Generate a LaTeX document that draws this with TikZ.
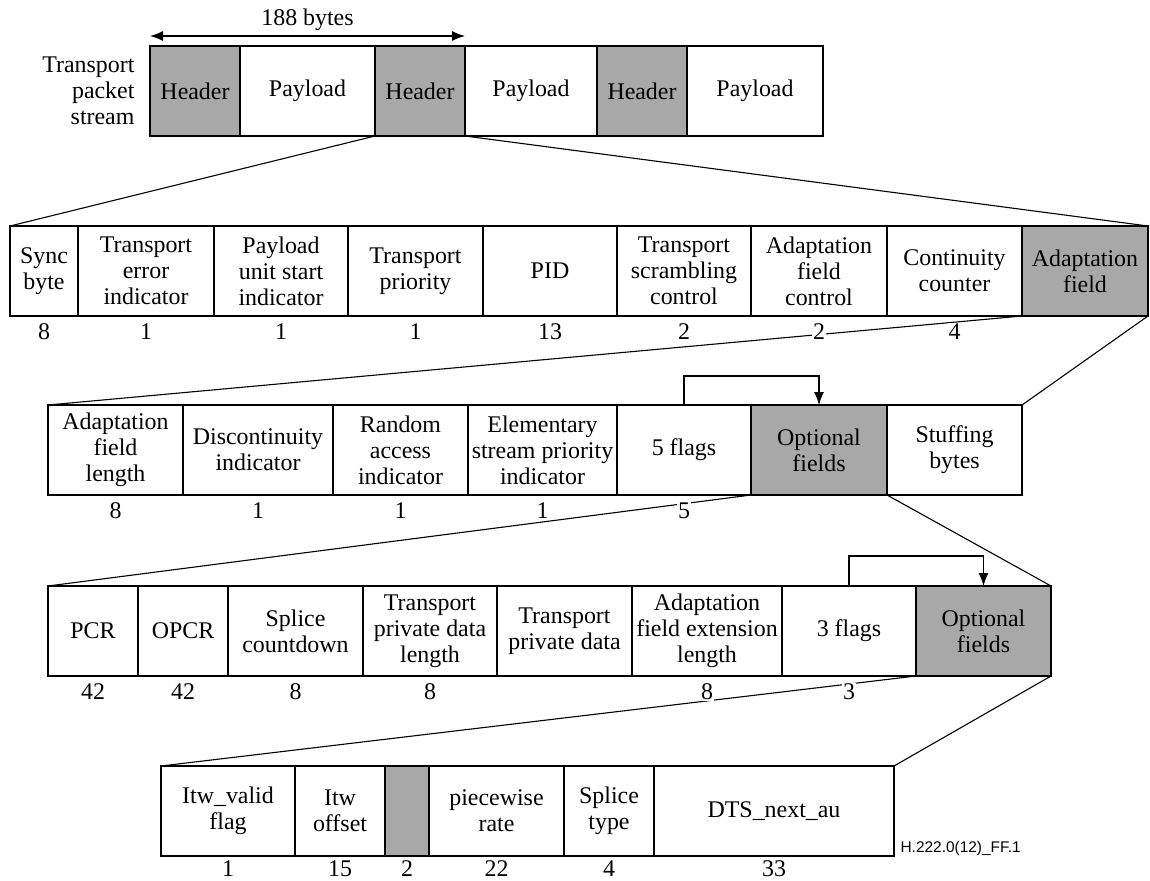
\documentclass[tikz,border=0pt]{standalone}
\usepackage{fontspec}
\setmainfont{Liberation Serif}
\newfontfamily\figidfont{Liberation Sans}
\usetikzlibrary{positioning,arrows.meta}
\definecolor{fieldgray}{RGB}{168,168,168}

\begin{document}
\begin{tikzpicture}[x=1bp, y=-1bp,
			>={Latex[length=13bp,width=10bp]},   % Pfeilspitzen
			line width=1.1bp,
			font=\fontsize{24}{26}\selectfont,
			fld/.style={draw, rectangle, inner sep=0pt, outer sep=0pt, minimum height=90bp, minimum width=#1, align=center},
			gfld/.style={fld=#1, fill=fieldgray},
			num/.style={fill=white, inner sep=1pt}]
			\useasboundingbox (0,0) rectangle (1150,881);
			% Transportstrom
			\node[gfld=90bp, anchor=north west] (hdrA) at (150,46) {Header};
			\node[fld=135bp, right=0pt of hdrA] (payA) {Payload};
			\node[gfld=90bp, right=0pt of payA] (hdrB) {Header};
			\node[fld=132bp, right=0pt of hdrB] (payB) {Payload};
			\node[gfld=90bp, right=0pt of payB] (hdrC) {Header};
			\node[fld=136bp, right=0pt of hdrC] (payC) {Payload};
			\node[align=right, inner sep=0pt, left=15bp of hdrA] (tps) {Transport\\packet\\stream};
			\draw[<->] ([yshift=10bp]hdrA.north west) -- ([yshift=10bp]hdrB.north east) node[midway, above=1bp] (len) {188 bytes};
			% Header
			\node[fld=68bp, anchor=north west] (sync) at (10,226) {Sync\\byte};
			\node[fld=136bp, right=0pt of sync] (tei) {Transport\\error\\indicator};
			\node[fld=134bp, right=0pt of tei] (pusi) {Payload\\unit start\\indicator};
			\node[fld=135bp, right=0pt of pusi] (tpri) {Transport\\priority};
			\node[fld=134bp, right=0pt of tpri] (pid) {PID};
			\node[fld=134bp, right=0pt of pid] (tsc) {Transport\\scrambling\\control};
			\node[fld=136bp, right=0pt of tsc] (afc) {Adaptation\\field\\control};
			\node[fld=135bp, right=0pt of afc] (cc) {Continuity\\counter};
			\node[gfld=126bp, right=0pt of cc] (adapt) {Adaptation\\field};
			% Adaptation field
			\node[fld=135bp, anchor=north west] (afl) at (48,405) {Adaptation\\field\\length};
			\node[fld=150bp, right=0pt of afl] (disc) {Discontinuity\\indicator};
			\node[fld=135bp, right=0pt of disc] (rai) {Random\\access\\indicator};
			\node[fld=149bp, right=0pt of rai] (espi) {Elementary\\stream priority\\indicator};
			\node[fld=134bp, right=0pt of espi] (flagsA) {5 flags};
			\node[gfld=136bp, right=0pt of flagsA] (optA) {Optional\\fields};
			\node[fld=135bp, right=0pt of optA] (stuff) {Stuffing\\bytes};
			% Optional fields
			\node[fld=90bp, anchor=north west] (pcr) at (48,586) {PCR};
			\node[fld=90bp, right=0pt of pcr] (opcr) {OPCR};
			\node[fld=135bp, right=0pt of opcr] (splc) {Splice\\countdown};
			\node[fld=134bp, right=0pt of splc] (tpdl) {Transport\\private data\\length};
			\node[fld=135bp, right=0pt of tpdl] (tpd) {Transport\\private data};
			\node[fld=150bp, right=0pt of tpd] (afel) {Adaptation\\field extension\\length};
			\node[fld=134bp, right=0pt of afel] (flagsB) {3 flags};
			\node[gfld=135bp, right=0pt of flagsB] (optB) {Optional\\fields};
			% Extension
			\node[fld=134bp, anchor=north west] (ltwv) at (161,766) {Itw\_valid\\flag};
			\node[fld=90bp, right=0pt of ltwv] (ltwo) {Itw\\offset};
			\node[gfld=44bp, right=0pt of ltwo] (resv) {};
			\node[fld=135bp, right=0pt of resv] (pwr) {piecewise\\rate};
			\node[fld=90bp, right=0pt of pwr] (splt) {Splice\\type};
			\node[fld=240bp, right=0pt of splt] (dts) {DTS\_next\_au};
			\node[anchor=base west, inner sep=0pt, font=\figidfont\fontsize{15.5}{18}\selectfont] (figid) at ([xshift=6bp, yshift=4bp]dts.south east) {H.222.0(12)\_FF.1};
			% Aufweitungen
			\draw (hdrB.south west) -- (sync.north west);
			\draw (hdrB.south east) -- (adapt.north east);
			\draw (adapt.south west) -- (afl.north west);
			\draw (adapt.south east) -- (stuff.north east);
			\draw (optA.south west) -- (pcr.north west);
			\draw (optA.south east) -- (optB.north east);
			\draw (optB.south west) -- (ltwv.north west);
			\draw (optB.south east) -- (dts.north east);
			% Flags
			\draw[->] (flagsA.north) -- ++(0,-29) -| (optA.north);
			\draw[->] (flagsB.north) -- ++(0,-30) -| (optB.north);
			% Bitbreiten
			\foreach \b/\n in {sync/8, tei/1, pusi/1, tpri/1, pid/13, tsc/2, afc/2, cc/4,
				afl/8, disc/1, rai/1, espi/1, flagsA/5,
				pcr/42, opcr/42, splc/8, tpdl/8, afel/8, flagsB/3}
				\node[num] (n-\b) at ([yshift=-16bp]\b.south) {\n};
			\foreach \b/\n in {ltwv/1, ltwo/15, resv/2, pwr/22, splt/4, dts/33}
				\node[num] (n-\b) at ([yshift=-13bp]\b.south) {\n};
		\end{tikzpicture}
\end{document}
